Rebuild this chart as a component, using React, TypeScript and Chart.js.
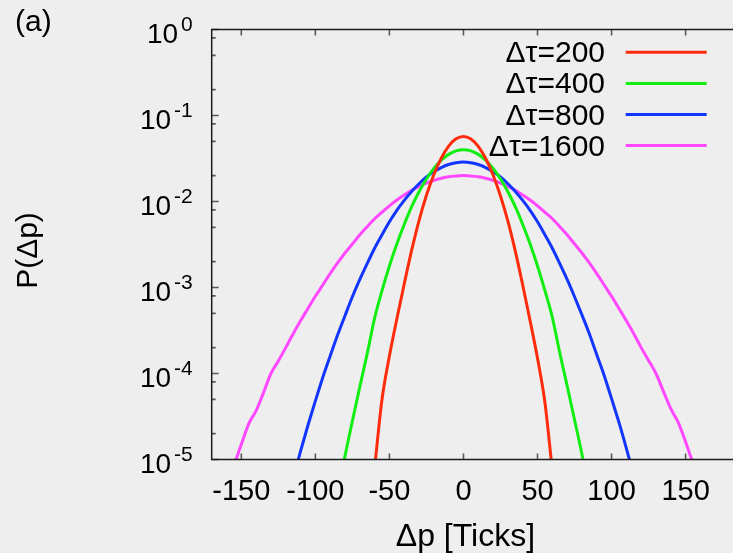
import React, { useEffect, useRef } from "react";
import { Chart, registerables } from "chart.js";

Chart.register(...registerables);

const seriesLabels = ["Δτ=200", "Δτ=400", "Δτ=800", "Δτ=1600"];
const seriesColors = ["#ff2c0c", "#12ee12", "#1236ff", "#ff48ff"];

const xRed = [-60, -55, -50, -45, -40, -35, -30, -25, -20, -15, -10, -5, 0, 5, 10, 15, 20, 25, 30, 35, 40, 45, 50, 55, 60];
const pRed = [8e-6, 5e-5, 1.6e-4, 4.3e-4, 1.1e-3, 2.7e-3, 6.0e-3, 0.0118, 0.0205, 0.0318, 0.044, 0.0535, 0.057, 0.0533, 0.0438, 0.0316, 0.0203, 0.0116, 5.9e-3, 2.65e-3, 1.07e-3, 4.1e-4, 1.5e-4, 4.6e-5, 7.5e-6];

const xGreen = [-85, -80, -75, -70, -65, -60, -55, -50, -45, -40, -35, -30, -25, -20, -15, -10, -5, 0, 5, 10, 15, 20, 25, 30, 35, 40, 45, 50, 55, 60, 65, 70, 75, 80, 85];
const pGreen = [4e-6, 1.1e-5, 2.8e-5, 7e-5, 1.7e-4, 4.4e-4, 9.2e-4, 1.78e-3, 3.2e-3, 5.4e-3, 8.7e-3, 0.013, 0.0183, 0.0243, 0.0302, 0.0353, 0.0388, 0.04, 0.0388, 0.0353, 0.0302, 0.0243, 0.0183, 0.013, 8.7e-3, 5.4e-3, 3.2e-3, 1.78e-3, 9.2e-4, 4.5e-4, 1.75e-4, 7.2e-5, 2.9e-5, 1.15e-5, 4e-6];

const xBlue = [-115, -110, -105, -100, -95, -90, -85, -80, -75, -70, -65, -60, -55, -50, -45, -40, -35, -30, -25, -20, -15, -10, -5, 0, 5, 10, 15, 20, 25, 30, 35, 40, 45, 50, 55, 60, 65, 70, 75, 80, 85, 90, 95, 100, 105, 110, 115];
const pBlue = [6e-6, 1.25e-5, 2.5e-5, 4.8e-5, 9e-5, 1.6e-4, 2.8e-4, 4.7e-4, 7.8e-4, 1.24e-3, 1.9e-3, 2.86e-3, 4.1e-3, 5.8e-3, 7.9e-3, 0.0103, 0.0131, 0.0161, 0.0193, 0.0222, 0.0248, 0.0269, 0.0282, 0.0287, 0.0282, 0.0269, 0.0248, 0.0222, 0.0193, 0.0161, 0.0131, 0.0103, 7.9e-3, 5.8e-3, 4.1e-3, 2.86e-3, 1.9e-3, 1.24e-3, 7.8e-4, 4.8e-4, 2.9e-4, 1.65e-4, 9.5e-5, 5.1e-5, 2.7e-5, 1.35e-5, 6.5e-6];

const xMagenta = [-160, -155, -150, -145, -140, -135, -130, -125, -120, -115, -110, -105, -100, -95, -90, -85, -80, -75, -70, -65, -60, -55, -50, -45, -40, -35, -30, -25, -20, -15, -10, -5, 0, 5, 10, 15, 20, 25, 30, 35, 40, 45, 50, 55, 60, 65, 70, 75, 80, 85, 90, 95, 100, 105, 110, 115, 120, 125, 130, 135, 140, 145, 150, 155, 160];
const pMagenta = [5e-6, 8.5e-6, 1.5e-5, 2.6e-5, 3.7e-5, 6e-5, 1.0e-4, 1.4e-4, 2.0e-4, 2.9e-4, 4.1e-4, 5.7e-4, 7.9e-4, 1.07e-3, 1.45e-3, 1.93e-3, 2.52e-3, 3.2e-3, 4.1e-3, 5.1e-3, 6.3e-3, 7.5e-3, 8.9e-3, 0.0104, 0.0119, 0.0135, 0.015, 0.0164, 0.0176, 0.0186, 0.0194, 0.0198, 0.02, 0.0198, 0.0194, 0.0186, 0.0176, 0.0164, 0.015, 0.0135, 0.0119, 0.0104, 8.9e-3, 7.5e-3, 6.3e-3, 5.1e-3, 4.1e-3, 3.2e-3, 2.52e-3, 1.93e-3, 1.45e-3, 1.07e-3, 7.9e-4, 5.7e-4, 4.1e-4, 2.9e-4, 2.0e-4, 1.42e-4, 1.0e-4, 6.2e-5, 3.9e-5, 2.7e-5, 1.6e-5, 9e-6, 5e-6];

const xTicks = [-150, -100, -50, 0, 50, 100, 150];
const yTickExponents = [-5, -4, -3, -2, -1, 0];
const yMinorMultipliers = [2, 5, 8];

const xTitle = "Δp [Ticks]";
const yTitle = "P(Δp)";
const panelLabel = "(a)";

const FONT = "'Liberation Sans', Arial, Helvetica, sans-serif";

const framePlugin = {
  id: "gnuplotFrame",
  afterDatasetsDraw(chart: any) {
    const { ctx, chartArea } = chart;
    const { left, right, top, bottom } = chartArea;
    const xs = chart.scales.x;
    const ys = chart.scales.y;
    ctx.save();

    // ticks
    ctx.strokeStyle = "#5a5a5a";
    ctx.lineWidth = 1.6;
    ctx.beginPath();
    xTicks.forEach((v) => {
      const px = xs.getPixelForValue(v);
      ctx.moveTo(px, bottom);
      ctx.lineTo(px, bottom - 6);
      ctx.moveTo(px, top);
      ctx.lineTo(px, top + 6);
    });
    yTickExponents.forEach((e) => {
      const py = ys.getPixelForValue(Math.pow(10, e));
      ctx.moveTo(left, py);
      ctx.lineTo(left + 7, py);
      if (e < 0) {
        yMinorMultipliers.forEach((m) => {
          const pm = ys.getPixelForValue(m * Math.pow(10, e));
          ctx.moveTo(left, pm);
          ctx.lineTo(left + 4, pm);
        });
      }
    });
    ctx.stroke();

    // frame
    ctx.strokeStyle = "#1c1c1c";
    ctx.lineWidth = 1.5;
    ctx.beginPath();
    ctx.moveTo(right, top);
    ctx.lineTo(left, top);
    ctx.lineTo(left, bottom);
    ctx.lineTo(right, bottom);
    ctx.stroke();

    ctx.fillStyle = "#000";
    ctx.textBaseline = "alphabetic";

    // x tick labels
    ctx.font = `29px ${FONT}`;
    ctx.textAlign = "center";
    xTicks.forEach((v) => {
      ctx.fillText(String(v), xs.getPixelForValue(v), bottom + 40);
    });

    // y tick labels with superscripts
    yTickExponents.forEach((e) => {
      const py = ys.getPixelForValue(Math.pow(10, e));
      ctx.font = `21px ${FONT}`;
      ctx.textAlign = "right";
      const sup = String(e);
      const supW = ctx.measureText(sup).width;
      const rightEdge = left - 19;
      ctx.fillText(sup, rightEdge, py + 1.5);
      ctx.font = `28px ${FONT}`;
      ctx.fillText("10", rightEdge - supW - 3, py + 13.5);
    });

    // x title
    ctx.font = `32px ${FONT}`;
    ctx.textAlign = "center";
    ctx.fillText(xTitle, xs.getPixelForValue(0) + 2, bottom + 86);

    // y title
    ctx.font = `30px ${FONT}`;
    ctx.save();
    ctx.translate(37, (top + bottom) / 2 + 6);
    ctx.rotate(-Math.PI / 2);
    ctx.textAlign = "center";
    ctx.fillText(yTitle, 0, 0);
    ctx.restore();

    // panel label
    ctx.textAlign = "left";
    ctx.font = `30px ${FONT}`;
    ctx.fillText(panelLabel, 15, 31);

    // legend
    ctx.font = `30px ${FONT}`;
    chart.data.datasets.forEach((ds: any, i: number) => {
      const ly = top + 22.8 + i * 31.1;
      ctx.textAlign = "right";
      ctx.fillStyle = "#000";
      ctx.fillText(ds.label, left + 393.3, ly + 10);
      ctx.strokeStyle = ds.borderColor;
      ctx.lineWidth = 3;
      ctx.beginPath();
      ctx.moveTo(left + 414, ly);
      ctx.lineTo(left + 495, ly);
      ctx.stroke();
    });

    ctx.restore();
  },
};

export default function App() {
  const canvasRef = useRef<HTMLCanvasElement | null>(null);

  useEffect(() => {
    if (!canvasRef.current) return;
    const xsArr = [xRed, xGreen, xBlue, xMagenta];
    const psArr = [pRed, pGreen, pBlue, pMagenta];
    const datasets = seriesLabels.map((label, i) => ({
      label,
      data: xsArr[i].map((x, j) => ({ x, y: psArr[i][j] })),
      borderColor: seriesColors[i],
      backgroundColor: seriesColors[i],
      borderWidth: 3,
      pointRadius: 0,
      cubicInterpolationMode: "monotone" as const,
      clip: 0,
      fill: false,
    }));
    const chart = new Chart(canvasRef.current, {
      type: "line",
      data: { datasets },
      options: {
        animation: false,
        responsive: true,
        maintainAspectRatio: false,
        layout: { padding: { top: 29.5, left: 211.7, right: 0, bottom: 93.5 } },
        plugins: { legend: { display: false }, tooltip: { enabled: false }, title: { display: false } },
        scales: {
          x: { type: "linear", min: -170, max: 182, display: false },
          y: { type: "logarithmic", min: 1e-5, max: 1, display: false },
        },
      },
      plugins: [framePlugin],
    });
    return () => chart.destroy();
  }, []);

  return (
    <div style={{ position: "absolute", left: 0, top: 0, width: 733, height: 553, background: "#eeeeee", overflow: "hidden" }}>
      <canvas ref={canvasRef} />
    </div>
  );
}
